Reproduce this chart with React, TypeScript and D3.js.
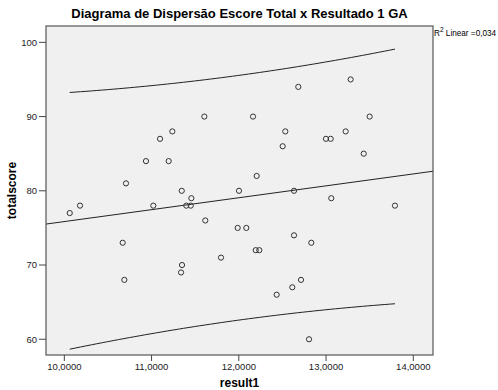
import React from 'react';
import * as d3 from 'd3';

// result1 (x) and totalscore (y)
const result1 = [
  11.605, 12.163, 11.238, 11.097, 10.936, 11.196, 10.707, 11.346, 11.456, 12.002,
  12.205, 12.682, 13.282, 13.50, 12.533, 13.225, 12.999, 13.053, 12.503, 13.432,
  12.633, 13.06, 10.062, 10.18, 11.02, 11.398, 11.449, 11.616, 11.987, 12.086,
  10.669, 12.194, 12.235, 11.796, 11.349, 11.338, 10.688, 13.79, 12.633, 12.831,
  12.713, 12.613, 12.434, 12.805,
];
const totalscore = [
  90, 90, 88, 87, 84, 84, 81, 80, 79, 80,
  82, 94, 95, 90, 88, 88, 87, 87, 86, 85,
  80, 79, 77, 78, 78, 78, 78, 76, 75, 75,
  73, 72, 72, 71, 70, 69, 68, 78, 74, 73,
  68, 67, 66, 60,
];
const xTicks = [10, 11, 12, 13, 14];
const yTicks = [60, 70, 80, 90, 100];

const W = 498;
const H = 390;
const m = { left: 46, right: 433, top: 26, bottom: 355 };
const FONT = 'Arial, "Liberation Sans", sans-serif';
const T_CRIT = 2.018; // t(0.975, df = 42)

const fmtX = (v: number) => v.toFixed(4).replace('.', ',');

export default function App() {
  const x = d3.scaleLinear().domain([9.79, 14.226]).range([m.left, m.right]);
  const y = d3.scaleLinear().domain([57.88, 102.2]).range([m.bottom, m.top]);

  // least squares fit
  const n = result1.length;
  const mx = d3.mean(result1) as number;
  const my = d3.mean(totalscore) as number;
  let sxx = 0, sxy = 0;
  result1.forEach((xi, i) => {
    sxx += (xi - mx) * (xi - mx);
    sxy += (xi - mx) * (totalscore[i] - my);
  });
  const b = sxy / sxx;
  const a = my - b * mx;
  let sse = 0;
  result1.forEach((xi, i) => {
    const r = totalscore[i] - (a + b * xi);
    sse += r * r;
  });
  const s = Math.sqrt(sse / (n - 2));
  const fit = (u: number) => a + b * u;
  const half = (u: number) => T_CRIT * s * Math.sqrt(1 + 1 / n + ((u - mx) * (u - mx)) / sxx);

  const [xmin, xmax] = d3.extent(result1) as [number, number];
  const grid = d3.range(0, 61).map(i => xmin + ((xmax - xmin) * i) / 60);
  const line = d3.line<number[]>().x(d => x(d[0])).y(d => y(d[1]));
  const upper = line(grid.map(u => [u, fit(u) + half(u)]));
  const lower = line(grid.map(u => [u, fit(u) - half(u)]));
  const fitLine = line([x.domain()[0], x.domain()[1]].map(u => [u, fit(u)]));

  return (
    <div style={{ position: 'fixed', left: 0, top: 0 }}>
      <svg width={W} height={H} style={{ display: 'block', background: '#fff' }} fontFamily={FONT}>
        <text x={(m.left + m.right) / 2} y={18} textAnchor="middle" fontSize={13} fontWeight="bold" fill="#000">
          Diagrama de Dispersão Escore Total x Resultado 1 GA
        </text>
        <rect x={m.left} y={m.top} width={m.right - m.left} height={m.bottom - m.top} fill="#f0f0f0" />

        <defs>
          <clipPath id="plot">
            <rect x={m.left} y={m.top} width={m.right - m.left} height={m.bottom - m.top} />
          </clipPath>
        </defs>
        <g clipPath="url(#plot)" fill="none" stroke="#222" strokeWidth={1}>
          <path d={upper || ''} />
          <path d={lower || ''} />
          <path d={fitLine || ''} />
        </g>

        <g fill="none" stroke="#333" strokeWidth={1}>
          {result1.map((u, i) => (
            <circle key={i} cx={x(u)} cy={y(totalscore[i])} r={2.6} />
          ))}
        </g>

        <rect x={m.left} y={m.top} width={m.right - m.left} height={m.bottom - m.top} fill="none" stroke="#555" strokeWidth={1.2} />

        {yTicks.map(t => (
          <g key={t}>
            <line x1={m.left - 7} x2={m.left} y1={y(t)} y2={y(t)} stroke="#444" />
            <text x={m.left - 9} y={y(t)} dy="0.35em" textAnchor="end" fontSize={9.5} fill="#222">{t}</text>
          </g>
        ))}
        {xTicks.map(t => (
          <g key={t}>
            <line x1={x(t)} x2={x(t)} y1={m.bottom} y2={m.bottom + 6} stroke="#444" />
            <text x={x(t)} y={370} textAnchor="middle" fontSize={9.5} fill="#222">{fmtX(t)}</text>
          </g>
        ))}

        <text transform={`translate(16,${(m.top + m.bottom) / 2}) rotate(-90)`} textAnchor="middle" fontSize={12} fontWeight="bold" fill="#000">
          totalscore
        </text>
        <text x={(m.left + m.right) / 2} y={387} textAnchor="middle" fontSize={12} fontWeight="bold" fill="#000">
          result1
        </text>

        <text x={m.right + 1} y={36} fontSize={8.2} fill="#000">
          R<tspan dy={-4} fontSize={6.5}>2</tspan><tspan dy={4}> Linear =0,034</tspan>
        </text>
      </svg>
    </div>
  );
}
